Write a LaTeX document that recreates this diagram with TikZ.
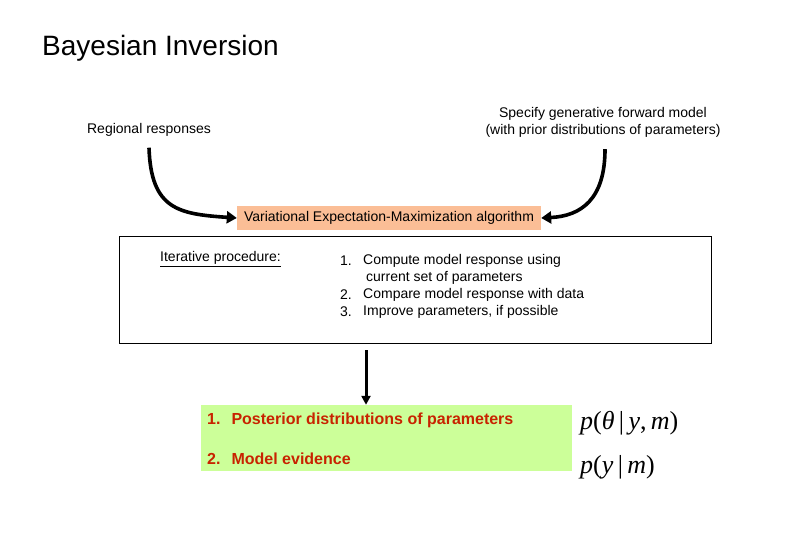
\documentclass[tikz,border=0pt]{standalone}
\usepackage{fontspec}
\setmainfont{Liberation Sans}
\newfontfamily\timesfont{Liberation Serif}
\usetikzlibrary{arrows.meta}
\definecolor{orangebox}{RGB}{251,190,150}
\definecolor{greenbox}{RGB}{204,255,153}
\definecolor{redtext}{RGB}{200,35,0}
\begin{document}
\begin{tikzpicture}[x=1pt,y=-1pt,
  lbl/.style={font=\fontsize{14}{16}\selectfont, inner sep=0pt},
  bigarrow/.style={line width=3.6pt, -{Triangle[length=10pt,width=12pt]}},
  downarrow/.style={line width=3pt, -{Triangle[length=9pt,width=9pt]}},
  redlbl/.style={font=\fontsize{16}{18}\selectfont\bfseries, text=redtext, anchor=west, inner sep=0pt},
  mathlbl/.style={anchor=west, inner sep=0pt, font=\timesfont\fontsize{26}{28}\selectfont}]
\useasboundingbox (0,0) rectangle (810,540);
\node[anchor=west, inner sep=0pt, font=\fontsize{28}{30}\selectfont] (title) at (42,48) {Bayesian Inversion};
\node[lbl] (reg) at (149,130) {Regional responses};
\node[lbl, align=center, font=\fontsize{14}{17}\selectfont] (spec) at (603,122) {Specify generative forward model\\(with prior distributions of parameters)};
\node[fill=orangebox, minimum width=304pt, minimum height=24pt, inner sep=0pt, lbl] (vem) at (389,218) {Variational Expectation-Maximization algorithm};
\node[draw=black, line width=0.8pt, minimum width=592pt, minimum height=107pt, inner sep=0pt] (iter) at (415,289.5) {};
\node[lbl, anchor=west] (ip) at (160,259) {\underline{Iterative procedure:}};
\node[lbl, anchor=west] (n1) at (340,261) {1.};
\node[lbl, anchor=west] (t1) at (363,261) {Compute model response using};
\node[lbl, anchor=west] (t1b) at (366,278) {current set of parameters};
\node[lbl, anchor=west] (n2) at (340,295) {2.};
\node[lbl, anchor=west] (t2) at (363,295) {Compare model response with data};
\node[lbl, anchor=west] (n3) at (340,312) {3.};
\node[lbl, anchor=west] (t3) at (363,312) {Improve parameters, if possible};
\node[fill=greenbox, minimum width=371pt, minimum height=66pt, inner sep=0pt] (res) at (386.5,438) {};
\node[redlbl] (r1) at (207,420) {1.\hspace{11pt}Posterior distributions of parameters};
\node[redlbl] (r2) at (207,459) {2.\hspace{11pt}Model evidence};
\node[mathlbl] (m1) at (580,423) {\textit{p}(\textit{θ}\,|\,\textit{y},\,\textit{m})};
\node[mathlbl] (m2) at (580,467) {\textit{p}(\textit{y}\,|\,\textit{m})};
\draw[bigarrow] ([yshift=-11pt]reg.south) .. controls ++(2,62) and ++(-58,-4) .. (vem.west);
\draw[bigarrow] ([xshift=2pt,yshift=-12pt]spec.south) .. controls ++(0,50) and ++(40,-2) .. (vem.east);
\draw[downarrow] ([xshift=-49pt,yshift=-7pt]iter.south) -- ([xshift=-20.5pt]res.north);
\end{tikzpicture}
\end{document}
